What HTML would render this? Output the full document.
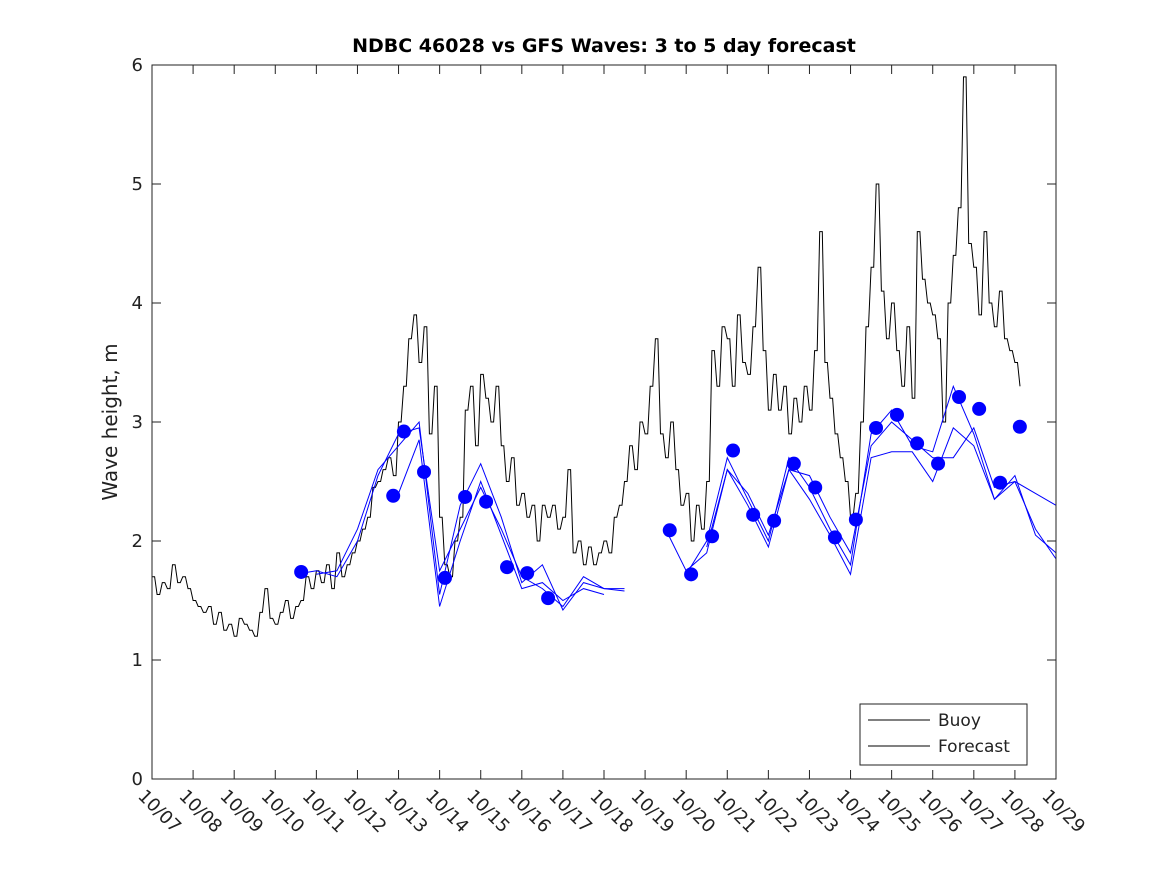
<!DOCTYPE html>
<html><head><meta charset="utf-8"><style>
body{margin:0;background:#fff;}
svg{display:block;font-family:"DejaVu Sans","Liberation Sans",sans-serif;}
</style></head><body>
<svg id="chart" width="1167" height="875" viewBox="0 0 1167 875" xmlns="http://www.w3.org/2000/svg">
<rect x="0" y="0" width="1167" height="875" fill="#fff"/>
<text x="604" y="52" text-anchor="middle" font-size="19" font-weight="bold">NDBC 46028 vs GFS Waves: 3 to 5 day forecast</text>
<text transform="translate(117,422) rotate(-90)" text-anchor="middle" font-size="20" fill="#222">Wave height, m</text>
<g id="grid"></g>
<g id="series"></g>
<rect x="152" y="65" width="904" height="714" fill="none" stroke="#222" stroke-width="1"/>
<g>
<rect x="860" y="704" width="167" height="61" fill="#fff" stroke="#222"/>
<line x1="868" y1="720" x2="930" y2="720" stroke="#000"/>
<text x="938" y="726" font-size="17" fill="#222">Buoy</text>
<line x1="868" y1="746" x2="930" y2="746" stroke="#000"/>
<text x="938" y="752" font-size="17" fill="#222">Forecast</text>
</g>
</svg>
<script>
const xTickLabels=["10/07","10/08","10/09","10/10","10/11","10/12","10/13","10/14","10/15","10/16","10/17","10/18","10/19","10/20","10/21","10/22","10/23","10/24","10/25","10/26","10/27","10/28","10/29"];
const yTicks=[0,1,2,3,4,5,6];
const buoyStep=0.125;
const buoy=[1.7,1.55,1.65,1.6,1.8,1.65,1.7,1.6,
1.5,1.45,1.4,1.45,1.3,1.4,1.25,1.3,
1.2,1.35,1.3,1.25,1.2,1.4,1.6,1.35,
1.3,1.4,1.5,1.35,1.45,1.5,1.7,1.6,
1.75,1.65,1.8,1.6,1.9,1.7,1.8,1.9,
2.0,2.1,2.2,2.45,2.5,2.6,2.7,2.55,
3.0,3.3,3.7,3.9,3.5,3.8,2.9,3.3,
2.2,1.8,1.7,2.0,2.2,3.1,3.3,2.8,
3.4,3.2,3.0,3.3,2.8,2.5,2.7,2.3,
2.4,2.2,2.3,2.0,2.3,2.2,2.3,2.1,
2.2,2.6,1.9,2.0,1.8,1.95,1.8,1.9,
2.0,1.9,2.2,2.3,2.5,2.8,2.6,3.0,
2.9,3.3,3.7,2.9,2.7,3.0,2.6,2.3,
2.4,2.0,2.3,2.1,2.5,3.6,3.3,3.8,
3.7,3.3,3.9,3.5,3.4,3.8,4.3,3.6,
3.1,3.4,3.1,3.3,2.9,3.2,3.0,3.3,
3.1,3.6,4.6,3.5,3.2,2.9,2.7,2.5,
2.2,2.4,3.0,3.8,4.3,5.0,4.1,3.7,
4.0,3.6,3.3,3.8,3.2,4.6,4.2,4.0,
3.9,3.7,3.0,4.0,4.4,4.8,5.9,4.5,
4.3,3.9,4.6,4.0,3.8,4.1,3.7,3.6,
3.5,3.3];
const fcStart=3.5, fcStep=0.5;
const fc1=[1.72,1.75,1.7,2.0,2.55,2.9,2.95,1.75,2.1,2.45,2.1,1.7,1.6,1.45,1.7,1.6,1.6,null,2.1,1.75,1.9,2.6,2.4,2.05,2.6,2.55,2.2,1.9,2.8,3.0,2.85,2.7,2.7,2.95,2.45,2.5,2.1,1.85];
const fc2=[null,1.72,1.75,2.1,2.6,2.8,3.0,1.55,2.3,2.65,2.2,1.65,1.8,1.42,1.65,1.6,1.58,null,null,1.72,2.0,2.7,2.35,2.0,2.7,2.45,2.1,1.8,2.9,3.1,2.8,2.75,3.3,2.9,2.35,2.55,2.05,1.9];
const fc3=[null,null,null,null,null,2.4,2.85,1.45,2.0,2.5,2.05,1.6,1.65,1.5,1.6,1.55,null,null,null,null,1.95,2.6,2.3,1.95,2.6,2.35,2.05,1.72,2.7,2.75,2.75,2.5,2.95,2.8,2.35,2.5,2.4,2.3];
const dotDays=[3.63,5.87,6.13,6.62,7.13,7.62,8.13,8.64,9.13,9.64,12.6,13.12,13.63,14.14,14.63,15.14,15.62,16.14,16.62,17.13,17.62,18.13,18.62,19.13,19.64,20.13,20.64,21.12];
const dotVals=[1.74,2.38,2.92,2.58,1.69,2.37,2.33,1.78,1.73,1.52,2.09,1.72,2.04,2.76,2.22,2.17,2.65,2.45,2.03,2.18,2.95,3.06,2.82,2.65,3.21,3.11,2.49,2.96];

const X0=152,X1=1056,Y0=779,Y1=65;
const xS=d=>X0+(X1-X0)*d/22;
const yS=v=>Y0-(Y0-Y1)*v/6;
const NS="http://www.w3.org/2000/svg";
const grid=document.getElementById('grid'), ser=document.getElementById('series');
function mk(tag,attrs,parent){const e=document.createElementNS(NS,tag);for(const k in attrs)e.setAttribute(k,attrs[k]);parent.appendChild(e);return e;}

xTickLabels.forEach((lab,i)=>{
  const x=xS(i);
  let t=mk('line',{x1:x,y1:Y0,x2:x,y2:Y0-9,stroke:'#222'},grid);
  
  
  t=mk('line',{x1:x,y1:Y1,x2:x,y2:Y1+9,stroke:'#222'},grid);
  
  
  const tx=mk('text',{transform:`translate(${x-15},${Y0+18}) rotate(45)`,'font-size':18,fill:'#222'},grid);
  tx.textContent=lab;
  
  
});
yTicks.forEach(v=>{
  const y=yS(v);
  let t=mk('line',{x1:X0,y1:y,x2:X0+9,y2:y,stroke:'#222'},grid);
  
  
  t=mk('line',{x1:X1,y1:y,x2:X1-9,y2:y,stroke:'#222'},grid);
  
  
  const tx=mk('text',{x:X0-9,y:y+6,'text-anchor':'end','font-size':18,fill:'#222'},grid);
  tx.textContent=v;
  
  
});

let d='';
buoy.forEach((v,i)=>{const x=xS(i*buoyStep),y=yS(v);d+=(i?`L${x.toFixed(1)},${y.toFixed(1)}`:`M${x.toFixed(1)},${y.toFixed(1)}`);if(i<buoy.length-1){d+=`L${xS((i+0.5)*buoyStep).toFixed(1)},${y.toFixed(1)}`;}});
const bp=mk('path',{d:d,fill:'none',stroke:'#000','stroke-width':1},ser);



[fc1,fc2,fc3].forEach((arr,k)=>{
  let p='',pen=false;
  arr.forEach((v,i)=>{if(v===null){pen=false;return;}const x=xS(fcStart+i*fcStep),y=yS(v);p+=(pen?'L':'M')+x.toFixed(1)+','+y.toFixed(1);pen=true;});
  const e=mk('path',{d:p,fill:'none',stroke:'#0000ff','stroke-width':1},ser);
  
  
});
dotDays.forEach((dd,i)=>{
  const c=mk('circle',{cx:xS(dd),cy:yS(dotVals[i]),r:7,fill:'#0000ff'},ser);
  
  
});
</script>
</body></html>
